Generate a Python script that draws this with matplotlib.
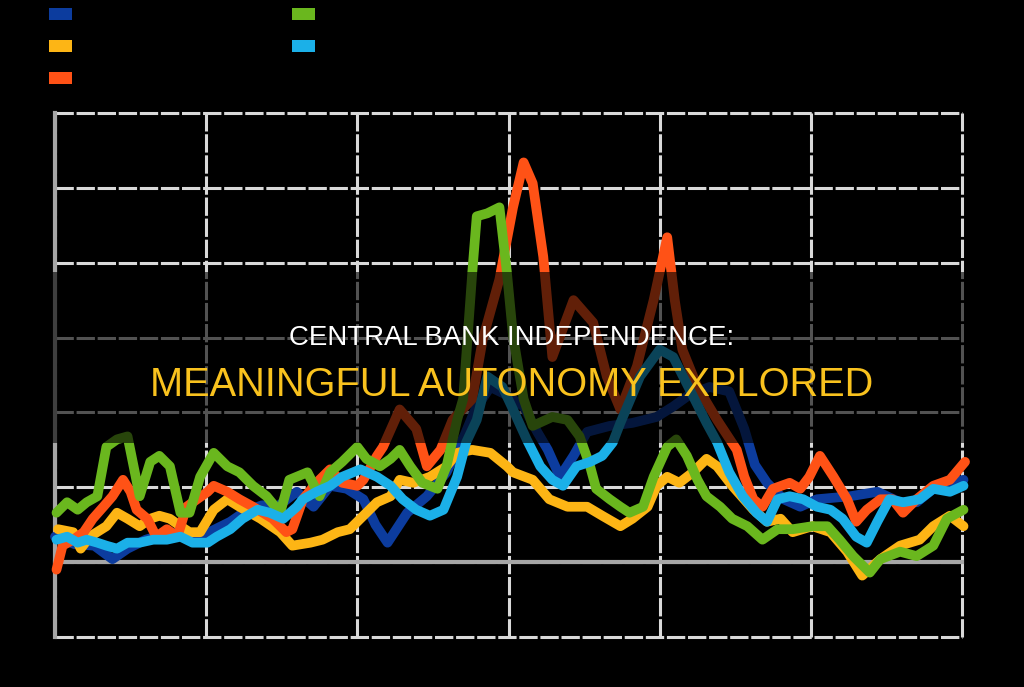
import matplotlib
matplotlib.use("Agg")
import matplotlib.pyplot as plt
from matplotlib.patches import Patch, Rectangle

# series (year, value)
navy_x = [1960.0, 1961.3, 1962.6, 1963.8, 1964.8, 1966.0, 1967.3, 1968.3, 1969.6, 1970.6,
          1971.6, 1972.6, 1973.7, 1974.7, 1976.0, 1977.1, 1978.2, 1979.3, 1980.4, 1981.2,
          1982.0, 1983.3, 1984.6, 1985.9, 1987.1, 1987.8, 1988.8, 1989.8, 1991.0, 1991.9,
          1992.6, 1993.4, 1994.3, 1995.2, 1996.7, 1998.2, 1999.8, 2000.9, 2002.0, 2003.3,
          2004.6, 2005.6, 2006.3, 2007.1, 2008.2, 2009.3, 2010.4, 2012.6, 2014.4, 2015.9,
          2017.0, 2018.1, 2020.1]
navy_y = [1.7, 1.2, 1.1, 0.2, 0.9, 1.5, 1.9, 2.0, 1.7, 2.2,
          2.7, 3.4, 3.8, 3.7, 4.7, 3.7, 5.1, 4.9, 4.2, 2.5,
          1.3, 3.3, 4.4, 6.0, 8.5, 10.2, 11.7, 11.2, 10.4, 8.7,
          7.5, 5.7, 7.1, 8.7, 9.1, 9.3, 9.7, 10.4, 11.2, 11.7,
          11.4, 8.9, 6.5, 5.3, 4.2, 3.7, 4.2, 4.4, 4.7, 4.0,
          4.0, 4.9, 5.5]

amber_x = [1960.2, 1961.2, 1961.7, 1962.3, 1963.4, 1964.1, 1964.8, 1965.6, 1966.3, 1966.9,
           1967.6, 1968.3, 1968.9, 1969.6, 1970.5, 1971.4, 1972.2, 1973.6, 1974.9, 1975.7,
           1976.9, 1977.7, 1978.7, 1979.5, 1980.4, 1981.3, 1982.2, 1982.8, 1983.7, 1984.8,
           1985.9, 1986.6, 1987.6, 1988.8, 1989.9, 1990.3, 1991.6, 1992.7, 1993.9, 1995.2,
           1996.2, 1997.4, 1998.2, 1999.2, 1999.8, 2000.5, 2001.3, 2002.2, 2003.1, 2003.8,
           2004.8, 2006.2, 2007.1, 2008.0, 2008.8, 2010.1, 2011.3, 2012.4, 2013.4, 2014.6,
           2015.9, 2017.2, 2018.1, 2019.2, 2020.1]
amber_y = [2.2, 2.0, 0.9, 1.7, 2.4, 3.3, 2.9, 2.4, 2.9, 3.1,
           2.9, 2.4, 2.0, 2.0, 3.5, 4.2, 3.7, 2.9, 2.0, 1.1,
           1.3, 1.5, 2.0, 2.2, 3.1, 4.0, 4.4, 5.5, 5.3, 5.7,
           6.4, 7.3, 7.5, 7.3, 6.4, 6.0, 5.5, 4.2, 3.7, 3.7,
           3.1, 2.4, 2.9, 3.7, 5.1, 5.7, 5.3, 6.0, 6.9, 6.4,
           5.1, 3.5, 2.7, 2.9, 2.0, 2.4, 2.0, 0.7, -0.9, 0.2,
           1.1, 1.5, 2.4, 3.1, 2.4]

red_x = [1960.1, 1960.5, 1961.2, 1961.9, 1962.5, 1963.2, 1963.8, 1964.5, 1965.0, 1965.4,
         1966.1, 1966.7, 1967.4, 1968.1, 1968.7, 1969.4, 1970.1, 1970.5, 1971.4, 1972.2,
         1973.1, 1974.4, 1975.3, 1975.7, 1976.4, 1977.3, 1978.2, 1979.0, 1980.0, 1980.4,
         1981.3, 1981.7, 1982.8, 1983.9, 1984.6, 1985.5, 1986.3, 1987.6, 1988.3, 1989.4,
         1990.3, 1991.0, 1991.6, 1992.3, 1992.9, 1994.3, 1995.6, 1996.5, 1997.4, 1998.5,
         1999.6, 2000.5, 2001.0, 2001.5, 2002.5, 2003.8, 2005.1, 2005.6, 2006.2, 2006.8,
         2007.5, 2008.6, 2009.3, 2009.9, 2010.6, 2011.5, 2012.4, 2013.0, 2013.7, 2014.6,
         2015.4, 2016.1, 2017.0, 2018.1, 2019.2, 2020.2]
red_y = [-0.5, 1.1, 1.5, 2.0, 2.9, 3.7, 4.4, 5.5, 4.7, 3.5,
         2.9, 1.7, 2.2, 1.7, 3.7, 4.2, 4.7, 5.1, 4.7, 4.2,
         3.7, 2.9, 2.0, 2.2, 4.2, 5.3, 6.2, 5.3, 5.1, 5.5,
         7.1, 7.7, 10.2, 8.9, 6.4, 7.5, 9.5, 10.9, 14.9, 18.9,
         23.7, 26.7, 25.3, 20.4, 13.7, 17.5, 16.0, 12.4, 10.2, 13.1,
         17.5, 21.7, 17.5, 14.2, 11.7, 9.5, 7.5, 5.7, 4.2, 3.7,
         4.9, 5.3, 4.9, 5.7, 7.1, 5.7, 4.2, 2.7, 3.5, 4.2,
         4.2, 3.3, 4.2, 5.1, 5.5, 6.7]

green_x = [1960.1, 1960.8, 1961.5, 1962.1, 1962.8, 1963.4, 1964.1, 1964.8, 1965.2, 1965.6,
           1966.3, 1966.9, 1967.6, 1968.3, 1968.9, 1969.6, 1970.5, 1971.4, 1972.2, 1973.1,
           1974.0, 1974.9, 1975.5, 1976.7, 1977.5, 1978.2, 1979.0, 1980.0, 1980.6, 1981.5,
           1982.2, 1982.8, 1983.5, 1984.3, 1985.3, 1985.9, 1986.6, 1987.0, 1987.6, 1987.9,
           1988.6, 1989.4, 1989.9, 1990.3, 1991.0, 1991.6, 1992.9, 1993.9, 1994.7, 1995.4,
           1995.8, 1996.7, 1997.4, 1998.0, 1998.9, 1999.6, 2000.5, 2001.1, 2001.8, 2002.5,
           2003.1, 2004.0, 2004.8, 2005.8, 2006.8, 2007.8, 2008.8, 2010.1, 2011.1, 2011.9,
           2012.8, 2013.9, 2014.6, 2015.9, 2017.0, 2018.1, 2019.0, 2020.1]
green_y = [3.3, 4.0, 3.5, 4.0, 4.4, 7.7, 8.2, 8.4, 6.4, 4.4,
           6.7, 7.1, 6.4, 3.3, 3.3, 5.7, 7.3, 6.4, 6.0, 5.1,
           4.4, 3.3, 5.5, 6.0, 4.4, 6.0, 6.7, 7.7, 6.9, 6.4,
           6.9, 7.5, 6.4, 5.3, 4.9, 6.4, 9.5, 10.9, 19.3, 23.1,
           23.3, 23.7, 19.3, 15.1, 10.9, 9.1, 9.7, 9.5, 8.4, 6.4,
           4.9, 4.2, 3.7, 3.3, 3.7, 5.7, 7.7, 8.2, 7.1, 5.5,
           4.4, 3.7, 2.9, 2.4, 1.5, 2.2, 2.2, 2.4, 2.4, 1.5,
           0.4, -0.7, 0.2, 0.7, 0.4, 1.1, 2.9, 3.5]

sky_x = [1960.1, 1960.8, 1961.5, 1962.1, 1962.8, 1963.4, 1964.1, 1964.8, 1965.6, 1966.5,
         1967.4, 1968.3, 1969.1, 1970.1, 1970.7, 1971.6, 1972.4, 1973.4, 1974.2, 1975.1,
         1976.0, 1976.4, 1977.3, 1978.2, 1979.0, 1980.2, 1981.3, 1982.2, 1983.0, 1983.9,
         1984.8, 1985.7, 1986.6, 1987.2, 1987.9, 1988.6, 1989.6, 1990.3, 1991.2, 1992.1,
         1992.9, 1993.6, 1994.5, 1995.4, 1996.2, 1996.9, 1997.4, 1998.7, 2000.0, 2000.9,
         2002.0, 2003.1, 2003.8, 2004.6, 2005.5, 2006.4, 2007.1, 2007.8, 2008.6, 2009.5,
         2010.4, 2011.3, 2012.1, 2013.0, 2013.7, 2014.4, 2015.2, 2016.1, 2017.2, 2018.1,
         2019.2, 2020.1]
sky_y = [1.5, 1.7, 1.3, 1.5, 1.3, 1.1, 0.9, 1.3, 1.3, 1.5,
         1.5, 1.7, 1.3, 1.3, 1.7, 2.2, 2.9, 3.5, 3.3, 2.9,
         3.7, 4.2, 4.7, 5.1, 5.7, 6.2, 5.7, 5.1, 4.2, 3.5,
         3.1, 3.5, 5.7, 8.0, 9.5, 12.4, 11.7, 10.2, 8.2, 6.4,
         5.5, 5.1, 6.4, 6.7, 7.1, 8.0, 9.3, 12.4, 14.2, 13.7,
         11.5, 9.3, 8.0, 6.0, 4.4, 3.3, 2.7, 4.2, 4.4, 4.2,
         3.7, 3.5, 2.9, 1.7, 1.3, 2.7, 4.2, 4.0, 4.2, 4.9,
         4.7, 5.1]

labels = ["United States", "Germany", "United Kingdom", "Japan", "Canada"]
colors = ["#0c3c9e", "#fdb515", "#ff5216", "#6ab71e", "#1bb0e8"]

fig = plt.figure(figsize=(10.24, 6.87), dpi=100, facecolor="black")
ax = fig.add_axes([55 / 1024, 1 - 637 / 687, 907 / 1024, 524 / 687])
ax.set_facecolor("black")

series = [(navy_x, navy_y), (amber_x, amber_y), (red_x, red_y),
          (green_x, green_y), (sky_x, sky_y)]
for (xs, ys), c, lab in zip(series, colors, labels):
    ax.plot(xs, ys, color=c, lw=7, solid_joinstyle="round",
            solid_capstyle="round", label=lab, zorder=3, clip_on=False)

ax.set_xlim(1960, 2020)
ax.set_ylim(-5, 30)
ax.set_xticks(range(1960, 2021, 10))
ax.set_yticks(range(-5, 31, 5))
ax.tick_params(length=0, labelbottom=False, labelleft=False)
for s in ax.spines.values():
    s.set_visible(False)
ax.grid(True, color="#d9d9d9", lw=2.2, linestyle=(0, (6, 0.9)), zorder=1)
for gl in ax.get_xgridlines() + ax.get_ygridlines():
    gl.set_clip_on(False)
ax.axhline(0, color="#a6a6a6", lw=3, zorder=2, clip_on=False)
ax.axvline(1960, color="#a6a6a6", lw=3, zorder=2, clip_on=False)

# legend, label text is black on black like the reference
handles = [Patch(facecolor=c, edgecolor="none", label=l) for c, l in zip(colors, labels)]
fig.legend(handles=handles, loc="upper left", bbox_to_anchor=(0.036, 1.007),
           ncol=2, frameon=False, fontsize=10, labelcolor="black",
           handlelength=1.65, handleheight=0.95, labelspacing=1.3,
           columnspacing=7.0, handletextpad=0.8)

# dark title band
fig.add_artist(Rectangle((0, 1 - 443 / 687), 1, 171 / 687, transform=fig.transFigure,
                         facecolor="black", alpha=0.62, edgecolor="none", zorder=10))
fig.text(0.5, 1 - 338 / 687, "CENTRAL BANK INDEPENDENCE:", color="white",
         fontsize=19.9, family="Liberation Sans", ha="center", va="center", zorder=11)
fig.text(0.5, 1 - 385 / 687, "MEANINGFUL AUTONOMY EXPLORED", color="#f9c21e",
         fontsize=28.6, family="Liberation Sans", ha="center", va="center", zorder=11)

fig.savefig("out.png", dpi=100, facecolor="black")
